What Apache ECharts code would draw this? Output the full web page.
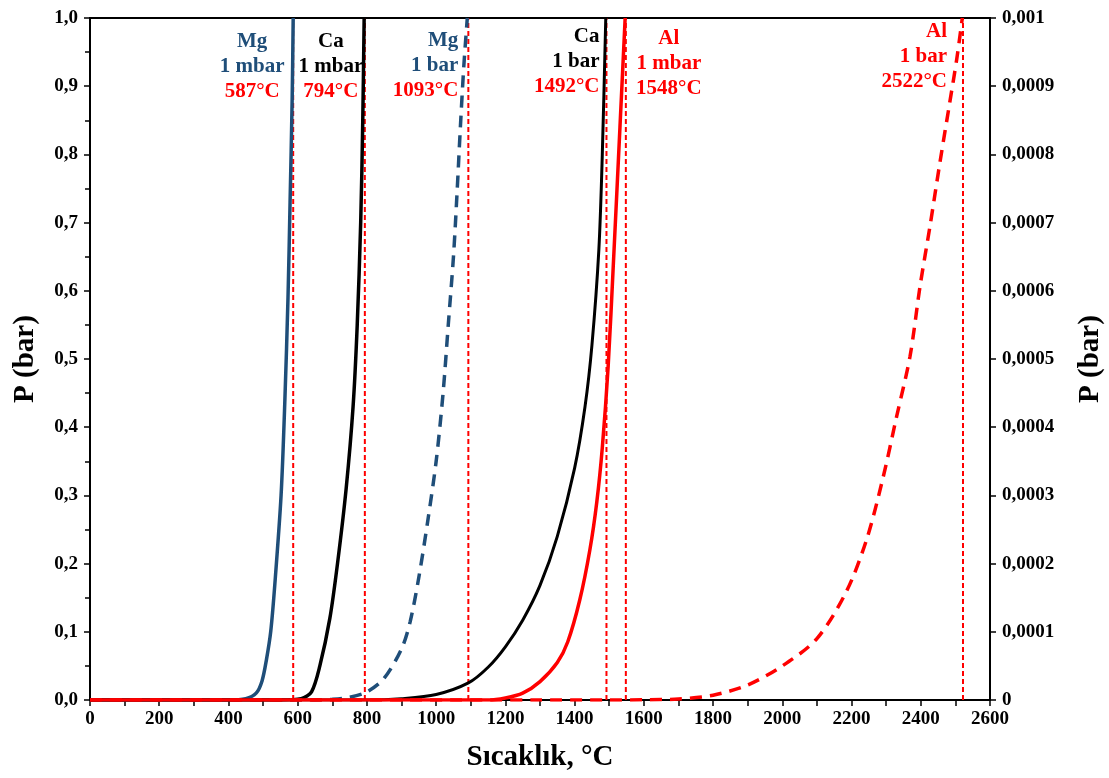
<!DOCTYPE html>
<html>
<head>
<meta charset="utf-8">
<script src="https://cdn.jsdelivr.net/npm/echarts@6/dist/echarts.min.js"></script>
<style>
html,body{margin:0;padding:0;background:#fff;}
#chart{width:1109px;height:778px;}
</style>
</head>
<body>
<div id="chart"></div>
<script>
// ---- Data ----
const xTicks = [0, 200, 400, 600, 800, 1000, 1200, 1400, 1600, 1800, 2000, 2200, 2400, 2600];

// 1 mbar curves (right axis, bar)
const mg1mbarT = [0, 400, 450, 480, 497, 510, 522, 534, 552, 563, 572, 578, 584, 587];
const mg1mbarP = [0, 0, 0.000002, 0.00001, 0.000028, 0.00006, 0.0001, 0.00017, 0.0003, 0.00044, 0.00059, 0.00073, 0.00088, 0.001];

const ca1mbarT = [0, 550, 610, 640, 664, 693, 715, 740, 760, 772, 782, 788, 792];
const ca1mbarP = [0, 0, 0.000002, 0.000012, 0.00005, 0.00012, 0.0002, 0.00031, 0.00043, 0.00055, 0.0007, 0.00085, 0.001];

const al1mbarT = [0, 1150, 1200, 1250, 1300, 1350, 1380, 1415, 1444, 1464, 1480, 1497, 1512, 1531, 1546];
const al1mbarP = [0, 0, 0.000003, 0.00001, 0.000027, 0.000055, 0.000085, 0.000147, 0.00022, 0.00029, 0.00037, 0.00049, 0.00064, 0.00084, 0.001];

// 1 bar curves (left axis, bar)
const mg1barT = [0, 650, 700, 750, 800, 850, 900, 925, 950, 975, 1000, 1020, 1035, 1050, 1060, 1070, 1080, 1090];
const mg1barP = [0, 0, 0.001, 0.004, 0.012, 0.032, 0.075, 0.115, 0.18, 0.26, 0.35, 0.45, 0.55, 0.65, 0.74, 0.84, 0.93, 1.0];

const ca1barT = [0, 800, 900, 1000, 1093, 1150, 1200, 1250, 1300, 1350, 1400, 1430, 1450, 1470, 1480, 1490];
const ca1barP = [0, 0, 0.002, 0.008, 0.025, 0.048, 0.078, 0.117, 0.168, 0.24, 0.34, 0.43, 0.52, 0.66, 0.8, 1.0];

const al1barT = [0, 1500, 1600, 1700, 1800, 1900, 2000, 2100, 2186, 2244, 2291, 2330, 2369, 2398, 2427, 2455, 2484, 2504, 2520];
const al1barP = [0, 0, 0.0003, 0.0015, 0.007, 0.022, 0.05, 0.09, 0.16, 0.236, 0.326, 0.415, 0.504, 0.607, 0.696, 0.787, 0.877, 0.94, 1.0];

// Boiling temperatures (vertical reference lines) and their annotations
const boilTemps = [587, 794, 1093, 1492, 1548, 2522];
const boilElements = ['Mg', 'Ca', 'Mg', 'Ca', 'Al', 'Al'];
const boilPressures = ['1 mbar', '1 mbar', '1 bar', '1 bar', '1 mbar', '1 bar'];

// ---- Styles ----
const FONT = "'Liberation Serif','Times New Roman',serif";
const BLUE = '#1F4E79', BLACK = '#000000', RED = '#FF0000';
const elementColor = { Mg: BLUE, Ca: BLACK, Al: RED };
// label layout per annotation: [dx, dy, align]
const labelLayout = [
  [-41, 49, 'center'],
  [-34, 49, 'center'],
  [-10, 48, 'right'],
  [-7, 44, 'right'],
  [43, 46, 'center'],
  [-16, 39, 'right']
];

function zip(t, p) { return t.map((v, i) => [v, p[i]]); }

const chart = echarts.init(document.getElementById('chart'), null, { renderer: 'canvas' });

const series = [];

// vertical dotted lines
boilTemps.forEach(function (t) {
  series.push({
    type: 'line', yAxisIndex: 0, data: [[t, 0], [t, 1]],
    showSymbol: false, symbol: 'none', silent: true, z: 1,
    lineStyle: { color: RED, width: 2, type: [5, 3] }
  });
});

function curve(t, p, axis, color, width, dashed, z) {
  return {
    type: 'line', yAxisIndex: axis, data: zip(t, p),
    showSymbol: false, symbol: 'none', smooth: 0.3, z: z,
    lineStyle: { color: color, width: width, type: dashed ? [12, 8] : 'solid' }
  };
}

series.push(curve(mg1barT, mg1barP, 0, BLUE, 3.5, true, 3));
series.push(curve(ca1barT, ca1barP, 0, BLACK, 3, false, 3));
series.push(curve(mg1mbarT, mg1mbarP, 1, BLUE, 3.5, false, 3));
series.push(curve(ca1mbarT, ca1mbarP, 1, BLACK, 3.5, false, 3));
series.push(curve(al1barT, al1barP, 0, RED, 3.5, true, 4));
series.push(curve(al1mbarT, al1mbarP, 1, RED, 3.5, false, 5));

// annotations
series.push({
  type: 'scatter', yAxisIndex: 0, symbolSize: 0, silent: true, z: 10,
  itemStyle: { color: 'rgba(0,0,0,0)' },
  data: boilTemps.map(function (t, i) {
    const el = boilElements[i];
    const c = elementColor[el];
    const lay = labelLayout[i];
    const base = { fontFamily: FONT, fontWeight: 'bold', fontSize: 21, lineHeight: 25, align: lay[2], textBorderWidth: 0, opacity: 1 };
    return {
      value: [t, 1],
      label: {
        show: true, position: 'inside', offset: [lay[0], lay[1]],
        align: lay[2], verticalAlign: 'middle', opacity: 1, textBorderWidth: 0, color: '#000',
        formatter: '{e|' + el + '}\n{e|' + boilPressures[i] + '}\n{t|' + t + '°C}',
        rich: {
          e: Object.assign({ color: c }, base),
          t: Object.assign({ color: RED }, base)
        }
      }
    };
  })
});

const axisLabelStyle = { color: '#000', fontFamily: FONT, fontWeight: 'bold', fontSize: 19 };
const nameStyle = { color: '#000', fontFamily: FONT, fontWeight: 'bold', fontSize: 29 };

chart.setOption({
  animation: false,
  backgroundColor: '#ffffff',
  grid: { left: 90, right: 119, top: 18, bottom: 78, outerBoundsMode: 'none', show: true, borderColor: '#000', borderWidth: 2, backgroundColor: 'transparent' },
  xAxis: {
    type: 'value', min: xTicks[0], max: xTicks[xTicks.length - 1], interval: xTicks[1] - xTicks[0],
    name: 'Sıcaklık, °C', nameLocation: 'middle', nameGap: 43, nameTextStyle: nameStyle,
    axisLine: { show: true, onZero: false, lineStyle: { color: '#000', width: 2 } },
    axisTick: { show: true, length: 6, lineStyle: { color: '#000', width: 1.5 } },
    minorTick: { show: true, splitNumber: 2, length: 6, lineStyle: { color: '#000', width: 1.5 } },
    splitLine: { show: false },
    axisLabel: Object.assign({ margin: 10, formatter: function (v) { return String(v); } }, axisLabelStyle)
  },
  yAxis: [
    {
      type: 'value', min: 0, max: 1, interval: 0.1, position: 'left',
      name: 'P (bar)', nameLocation: 'middle', nameGap: 50, nameRotate: 90, nameTextStyle: nameStyle,
      axisLine: { show: true, lineStyle: { color: '#000', width: 2 } },
      axisTick: { show: true, length: 6, lineStyle: { color: '#000', width: 1.5 } },
      minorTick: { show: true, splitNumber: 2, length: 5, lineStyle: { color: '#000', width: 1.5 } },
      splitLine: { show: false },
      axisLabel: Object.assign({ margin: 12, formatter: function (v) { return v.toFixed(1).replace('.', ','); } }, axisLabelStyle)
    },
    {
      type: 'value', min: 0, max: 0.001, interval: 0.0001, position: 'right',
      name: 'P (bar)', nameLocation: 'middle', nameGap: 86, nameRotate: 90, nameTextStyle: nameStyle,
      axisLine: { show: true, lineStyle: { color: '#000', width: 2 } },
      axisTick: { show: true, length: 6, lineStyle: { color: '#000', width: 1.5 } },
      splitLine: { show: false },
      axisLabel: Object.assign({ margin: 12, formatter: function (v) {
        if (Math.abs(v) < 1e-12) return '0';
        return String(parseFloat(v.toFixed(4))).replace('.', ',');
      } }, axisLabelStyle)
    }
  ],
  series: series
});
</script>
</body>
</html>
